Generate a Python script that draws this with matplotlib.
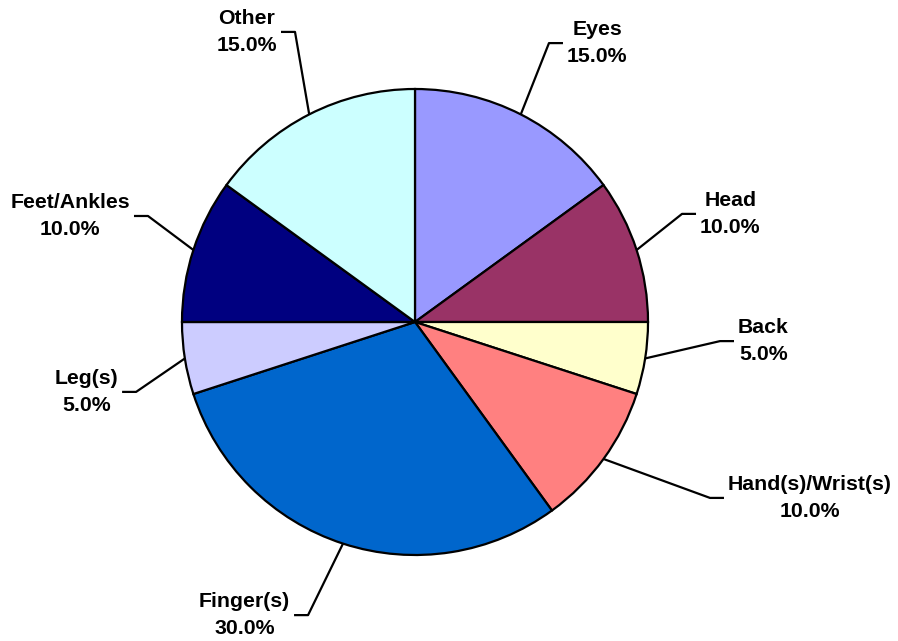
import numpy as np
import matplotlib.pyplot as plt

# slice data, clockwise from 12 o'clock
labels = ["Eyes", "Head", "Back", "Hand(s)/Wrist(s)", "Finger(s)",
          "Leg(s)", "Feet/Ankles", "Other"]
shares = [15.0, 10.0, 5.0, 10.0, 30.0, 5.0, 10.0, 15.0]
colors = ["#9999FF", "#993366", "#FFFFCC", "#FF8080", "#0066CC",
          "#CCCCFF", "#000080", "#CCFFFF"]

# leader-line elbow for each label, in units of pie radius
elbows = [(0.575, 1.197), (1.146, 0.464), (1.309, -0.082), (1.266, -0.755),
          (-0.459, -1.258), (-1.197, -0.300), (-1.146, 0.455), (-0.515, 1.245)]

W, H = 898, 641
cx, cy, R = 415, 322, 233  # pie centre / radius in pixels

fig = plt.figure(figsize=(W / 100, H / 100), dpi=100)
ax = fig.add_axes([0, 0, 1, 1])
ax.axis("off")

wedges, _ = ax.pie(shares, colors=colors, startangle=90, counterclock=False,
                   radius=1, center=(0, 0),
                   wedgeprops=dict(edgecolor="black", linewidth=1.6))
ax.set_xlim(-cx / R, (W - cx) / R)
ax.set_ylim(-(H - cy) / R, cy / R)
ax.set_aspect("equal")

stub = 14 / R
gap = 4 / R
for w, lab, val, (ex, ey) in zip(wedges, labels, shares, elbows):
    mid = np.deg2rad((w.theta1 + w.theta2) / 2)
    x0, y0 = np.cos(mid), np.sin(mid)
    side = 1 if ex > 0 else -1
    x2 = ex + side * stub
    ax.plot([x0, ex, x2], [y0, ey, ey], color="black", lw=1.6,
            solid_capstyle="butt")
    ax.text(x2 + side * gap, ey, f"{lab}\n{val:.1f}%",
            ha="left" if side > 0 else "right", va="center",
            multialignment="center", fontsize=15.3, fontweight="bold",
            family="Liberation Sans", linespacing=1.5)

fig.savefig("out.png", dpi=100)
